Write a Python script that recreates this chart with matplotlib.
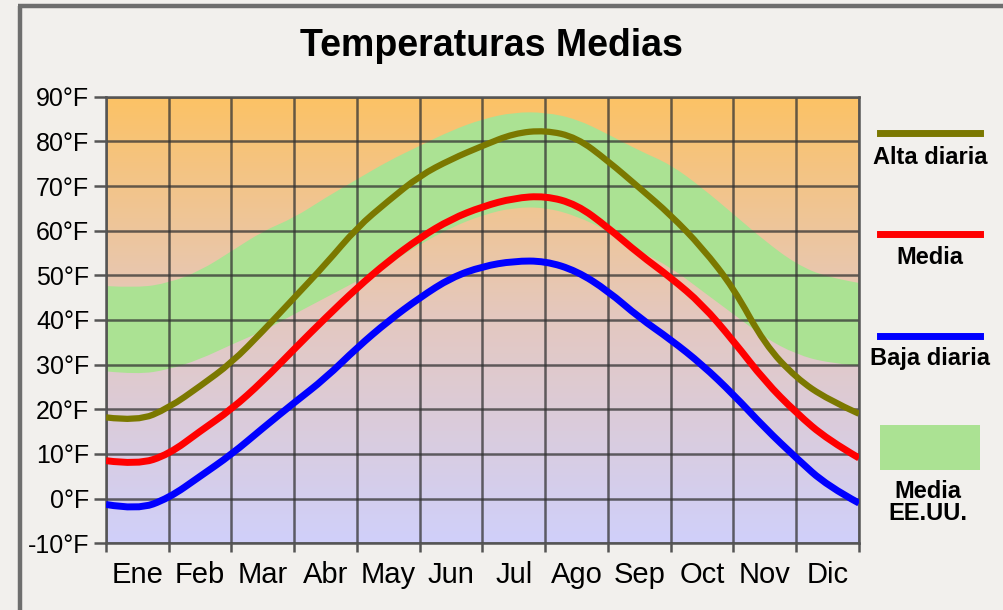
import matplotlib.pyplot as plt
import numpy as np
from matplotlib.colors import LinearSegmentedColormap
from matplotlib.path import Path
from matplotlib.patches import PathPatch

plt.rcParams['font.family'] = ['Liberation Sans', 'DejaVu Sans']

# data, one value every half month (Ene start .. Dic end)
months = ['Ene', 'Feb', 'Mar', 'Abr', 'May', 'Jun', 'Jul', 'Ago', 'Sep', 'Oct', 'Nov', 'Dic']
half_month = [i / 2 for i in range(25)]
alta = [18.2, 17.3, 20.3, 25.2, 30.4, 37.5, 45.0, 52.5, 60.7, 66.7, 72.3, 76.0, 79.0,
        81.8, 82.5, 80.9, 75.6, 69.6, 63.5, 56.2, 47.2, 34.5, 27.0, 22.2, 19.0]
media = [8.5, 7.6, 9.9, 15.1, 20.0, 26.3, 33.5, 40.5, 47.2, 53.2, 58.4, 62.6, 65.4,
         67.3, 67.8, 65.9, 60.7, 54.7, 49.5, 43.5, 35.3, 26.3, 19.2, 13.2, 9.1]
baja = [-1.3, -2.5, 0.1, 5.0, 9.9, 15.8, 21.5, 27.0, 33.8, 39.8, 45.0, 49.5, 52.0,
        53.2, 53.2, 51.0, 46.5, 40.5, 35.6, 30.0, 23.3, 15.8, 9.1, 2.8, -1.0]
eeuu_max = [47.6, 47.2, 48.3, 51.0, 55.4, 59.9, 62.9, 67.4, 71.5, 75.6, 79.0, 82.4, 85.0,
            86.5, 86.5, 85.0, 81.6, 77.9, 74.8, 69.6, 63.7, 57.7, 52.5, 49.5, 48.3]
eeuu_min = [28.5, 27.8, 28.9, 31.2, 34.5, 37.5, 41.3, 45.0, 48.7, 52.5, 56.9, 60.7, 63.5,
            65.2, 65.2, 63.3, 59.9, 55.4, 51.8, 46.5, 41.3, 36.0, 32.3, 30.4, 29.7]
temps = [90, 80, 70, 60, 50, 40, 30, 20, 10, 0, -10]
temp_labels = [str(t) + '°F' for t in temps]


def smooth_path(xs, ys, closed_with=None):
    # quadratic bezier through the read points (points act as control points)
    pts = list(zip(xs, ys))
    verts = [pts[0]]
    codes = [Path.MOVETO]
    for i in range(1, len(pts) - 1):
        mid = ((pts[i][0] + pts[i + 1][0]) / 2, (pts[i][1] + pts[i + 1][1]) / 2)
        if i == len(pts) - 2:
            mid = pts[i + 1]
        verts += [pts[i], mid]
        codes += [Path.CURVE3, Path.CURVE3]
    if closed_with is not None:
        back = list(zip(closed_with[0], closed_with[1]))[::-1]
        verts.append(back[0])
        codes.append(Path.LINETO)
        for i in range(1, len(back) - 1):
            mid = ((back[i][0] + back[i + 1][0]) / 2, (back[i][1] + back[i + 1][1]) / 2)
            if i == len(back) - 2:
                mid = back[i + 1]
            verts += [back[i], mid]
            codes += [Path.CURVE3, Path.CURVE3]
        verts.append(pts[0])
        codes.append(Path.CLOSEPOLY)
    return Path(verts, codes)


W, H = 1004, 610
fig = plt.figure(figsize=(W / 100, H / 100), dpi=100)
fig.patch.set_facecolor('#f2f0ed')

# main plot area
ax = fig.add_axes([106 / W, 1 - 543.3 / H, 753 / W, (543.3 - 96.7) / H])
grad = LinearSegmentedColormap.from_list('bg', ['#d0d0fa', '#e4c8c0', '#fcc265'])
ax.imshow(np.linspace(0, 1, 256).reshape(-1, 1), cmap=grad, origin='lower',
          extent=[0, 12, -10, 90], aspect='auto', zorder=0)
band = smooth_path(half_month, eeuu_max, closed_with=(half_month, eeuu_min))
ax.add_patch(PathPatch(band, facecolor='#abe293', edgecolor='none', zorder=1))

for m in range(13):
    ax.axvline(m, color='#333333', lw=1.8, alpha=0.75, zorder=2)
for t in temps:
    ax.axhline(t, color='#333333', lw=1.8, alpha=0.75, zorder=2)

for serie, col, lw in [(alta, '#7b7800', 4.5), (media, '#ff0000', 5), (baja, '#0000ff', 5)]:
    ax.add_patch(PathPatch(smooth_path(half_month, serie), facecolor='none',
                           edgecolor=col, lw=lw, capstyle='butt', zorder=3))

ax.set_xlim(0, 12)
ax.set_ylim(-10, 90)
for s in ax.spines.values():
    s.set_color('#555555')
    s.set_linewidth(1.8)
ax.set_yticks(temps)
ax.set_yticklabels(temp_labels, fontsize=18)
ax.set_xticks(range(13))
ax.set_xticklabels([])
ax.set_xticks([m + 0.5 for m in range(12)], minor=True)
ax.set_xticklabels(months, minor=True, fontsize=21)
ax.tick_params(axis='y', length=9, width=1.8, color='#555555', pad=3)
ax.tick_params(axis='x', which='major', length=6.5, width=1.8, color='#555555')
ax.tick_params(axis='x', which='minor', length=0, pad=13)

# overlay in pixel coordinates for title, legend and frame
ov = fig.add_axes([0, 0, 1, 1], zorder=5)
ov.set_xlim(0, W)
ov.set_ylim(H, 0)
ov.axis('off')
ov.patch.set_alpha(0)

ov.plot([20, 20], [6, H], color='#6e6e6e', lw=3.2, solid_capstyle='butt')
ov.plot([18.5, W], [6, 6], color='#6e6e6e', lw=3.2, solid_capstyle='butt')

ov.text(491, 46, 'Temperaturas Medias', fontsize=27, fontweight='bold',
        ha='center', va='center')

ov.plot([880, 980], [133, 133], color='#7b7800', lw=5)
ov.text(930, 157, 'Alta diaria', fontsize=17, fontweight='bold', ha='center', va='center')
ov.plot([880, 980], [234, 234], color='#ff0000', lw=5)
ov.text(930, 257, 'Media', fontsize=17, fontweight='bold', ha='center', va='center')
ov.plot([880, 980], [336, 336], color='#0000ff', lw=5)
ov.text(930, 358, 'Baja diaria', fontsize=17, fontweight='bold', ha='center', va='center')
ov.fill_between([880, 980], [425, 425], [470, 470], color='#abe293', lw=0)
ov.text(928, 492, 'Media', fontsize=17, fontweight='bold', ha='center', va='center')
ov.text(928, 513, 'EE.UU.', fontsize=17, fontweight='bold', ha='center', va='center')

fig.savefig('out.png', dpi=100, facecolor=fig.get_facecolor())
